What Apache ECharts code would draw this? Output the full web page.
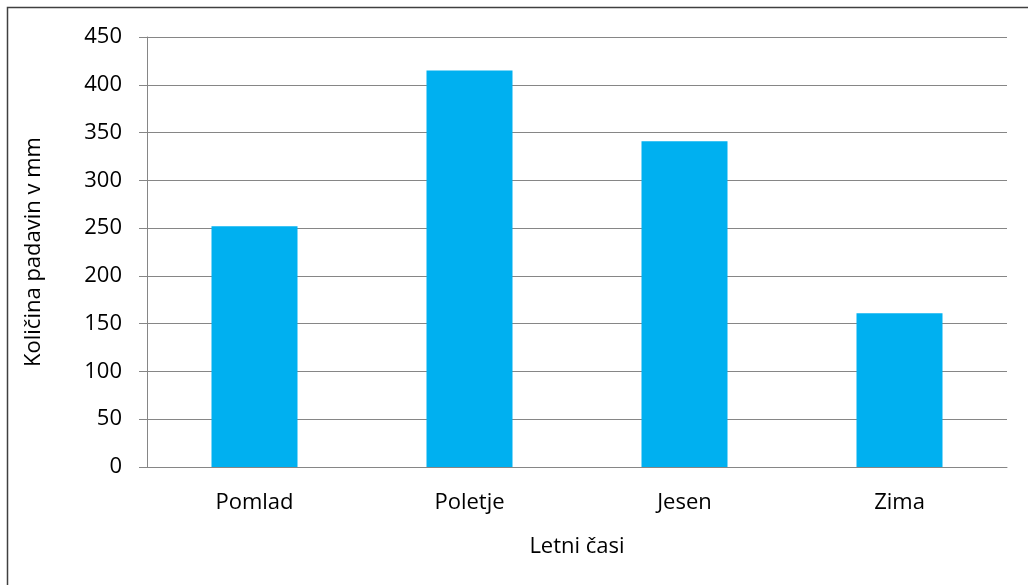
<!DOCTYPE html>
<html>
<head>
<meta charset="utf-8">
<script src="https://cdn.jsdelivr.net/npm/echarts@6/dist/echarts.min.js"></script>
<style>
  html, body { margin: 0; padding: 0; background: #fff; }
  #chart { width: 1028px; height: 585px; }
</style>
</head>
<body>
<div id="chart"></div>
<script>
// data
const seasons = ['Pomlad', 'Poletje', 'Jesen', 'Zima'];
const rainfall = [252, 415, 341, 161];
const yTicks = [0, 50, 100, 150, 200, 250, 300, 350, 400, 450];

const font = '"Open Sans", "Noto Sans", sans-serif';

const chart = echarts.init(document.getElementById('chart'));

chart.setOption({
  animation: false,
  textStyle: { fontFamily: font },
  graphic: [{
    type: 'rect',
    shape: { x: 7.5, y: 7.5, width: 1100, height: 1000 },
    style: { fill: 'none', stroke: '#404040', lineWidth: 1.5 },
    silent: true
  }],
  grid: { left: 147, right: 21, top: 37, bottom: 118 },
  xAxis: {
    type: 'category',
    data: seasons,
    name: 'Letni časi',
    nameLocation: 'middle',
    nameGap: 69,
    nameTextStyle: { fontSize: 22, color: '#000', fontFamily: font },
    axisLine: { lineStyle: { color: '#868686', width: 1 } },
    axisTick: { show: false },
    axisLabel: { fontSize: 22, color: '#000', margin: 25, fontFamily: font }
  },
  yAxis: {
    type: 'value',
    min: yTicks[0],
    max: yTicks[yTicks.length - 1],
    interval: 50,
    name: 'Količina padavin v mm',
    nameLocation: 'middle',
    nameGap: 102,
    nameTextStyle: { fontSize: 22, color: '#000', fontFamily: font },
    axisLine: { show: true, lineStyle: { color: '#868686', width: 1 } },
    axisTick: { show: true, length: 8, inside: false, lineStyle: { color: '#868686' } },
    axisLabel: { fontSize: 22, color: '#000', margin: 25, fontFamily: font },
    splitLine: { lineStyle: { color: '#868686', width: 1 } }
  },
  series: [{
    type: 'bar',
    data: rainfall,
    barWidth: '40%',
    itemStyle: { color: '#00B0F0' }
  }]
});
</script>
</body>
</html>
